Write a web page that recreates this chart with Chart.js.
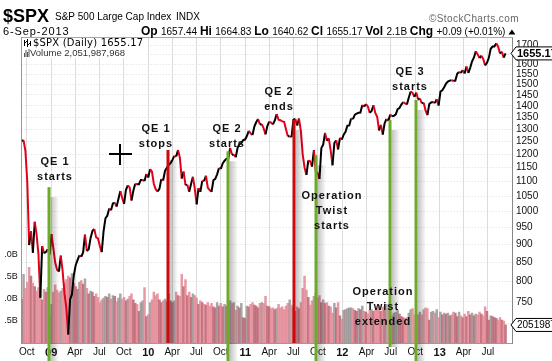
<!DOCTYPE html>
<html>
<head>
<meta charset="utf-8">
<script src="https://cdn.jsdelivr.net/npm/chart.js@4.4.0/dist/chart.umd.min.js"></script>
<style>
  body { margin: 0; background: #fff; width: 552px; height: 361px; overflow: hidden; }
  #c { display: block; }
</style>
</head>
<body>
<canvas id="c" width="552" height="361"></canvas>
<script>
// ---- data ----
// x axis ticks (quarter starts)
var tickDates = ['2008-10-01', '2009-01-01', '2009-04-01', '2009-07-01', '2009-10-01',
  '2010-01-01', '2010-04-01', '2010-07-01', '2010-10-01', '2011-01-01', '2011-04-01',
  '2011-07-01', '2011-10-01', '2012-01-01', '2012-04-01', '2012-07-01', '2012-10-01',
  '2013-01-01', '2013-04-01', '2013-07-01'];
var tickLabels = ['Oct', '09', 'Apr', 'Jul', 'Oct', '10', 'Apr', 'Jul', 'Oct', '11', 'Apr',
  'Jul', 'Oct', '12', 'Apr', 'Jul', 'Oct', '13', 'Apr', 'Jul'];
var priceTicks = [700, 750, 800, 850, 900, 950, 1000, 1050, 1100, 1150, 1200, 1250, 1300,
  1350, 1400, 1450, 1500, 1550, 1600, 1650, 1700];
var volTicks = [2.5, 5, 7.5, 10];
var volTickLabels = ['2.5B', '5.0B', '7.5B', '10.0B'];

// weekly $SPX closes, one per week starting at firstWeek
var firstWeek = '2008-09-12';
var spx2008 = [1252, 1255, 1213, 1099, 899, 940, 877, 968, 930, 873, 760, 896, 876, 879, 887, 872];
var spx2009 = [931, 890, 850, 831, 826, 869, 827, 770, 735, 676, 756, 768, 816, 843, 857, 870,
  866, 878, 929, 882, 887, 919, 940, 946, 921, 918, 896, 879, 940, 979, 987, 1010, 1004, 1026,
  1029, 1016, 1042, 1068, 1044, 1025, 1071, 1087, 1080, 1036, 1069, 1093, 1091, 1091, 1106,
  1106, 1102, 1127];
var spx2010 = [1115, 1145, 1136, 1092, 1074, 1066, 1075, 1109, 1104, 1139, 1150, 1160, 1167,
  1179, 1194, 1192, 1217, 1187, 1111, 1136, 1088, 1089, 1065, 1092, 1117, 1076, 1023, 1078,
  1065, 1103, 1102, 1121, 1079, 1071, 1065, 1105, 1110, 1126, 1149, 1146, 1166, 1176, 1183,
  1183, 1225, 1199, 1199, 1189, 1225, 1240, 1244, 1256, 1258];
var spx2011 = [1272, 1293, 1283, 1276, 1311, 1329, 1343, 1320, 1321, 1304, 1279, 1313, 1332,
  1328, 1320, 1337, 1364, 1340, 1338, 1333, 1331, 1300, 1271, 1271, 1268, 1340, 1344, 1316,
  1345, 1292, 1199, 1150, 1124, 1177, 1174, 1154, 1216, 1136, 1131, 1110, 1224, 1238, 1285,
  1253, 1263, 1216, 1159, 1244, 1255, 1219, 1265, 1258];
var spx2012 = [1278, 1289, 1315, 1316, 1345, 1343, 1362, 1366, 1370, 1371, 1404, 1397, 1408,
  1398, 1370, 1378, 1403, 1369, 1353, 1295, 1318, 1278, 1325, 1343, 1335, 1362, 1355, 1357,
  1363, 1386, 1391, 1406, 1418, 1411, 1407, 1438, 1466, 1460, 1441, 1461, 1429, 1433, 1412,
  1414, 1380, 1360, 1409, 1416, 1418, 1413, 1430, 1402];
var spx2013 = [1466, 1472, 1486, 1503, 1513, 1518, 1520, 1516, 1518, 1551, 1560, 1556, 1569,
  1553, 1588, 1555, 1582, 1614, 1634, 1667, 1650, 1631, 1643, 1626, 1593, 1606, 1632, 1680,
  1692, 1692, 1710, 1691, 1655, 1664, 1633, 1655.17];

// weekly volume, billions of shares
var vol2008 = [5.0, 7.8, 6.2, 6.9, 8.6, 7.6, 6.8, 6.4, 5.9, 6.3, 7.2, 4.9, 6.1, 5.8, 6.3, 3.1];
var vol2009 = [4.4, 5.8, 6.6, 6.0, 5.7, 5.9, 6.2, 6.8, 7.2, 7.6, 7.4, 7.9, 6.8, 6.4, 6.1, 6.9,
  7.1, 6.7, 7.3, 6.2, 5.6, 5.9, 5.8, 5.3, 5.6, 5.2, 4.6, 4.9, 5.1, 5.3, 5.2, 5.6, 5.0, 5.4,
  5.3, 4.7, 5.1, 5.6, 5.0, 5.2, 4.8, 5.0, 5.3, 5.6, 4.9, 4.5, 4.4, 3.6, 4.6, 4.8, 6.3, 3.0];
var vol2010 = [3.2, 4.6, 4.9, 5.8, 5.4, 5.6, 4.9, 4.6, 4.8, 5.0, 4.7, 5.6, 4.8, 4.6, 4.8, 5.8,
  5.4, 5.3, 7.8, 6.4, 7.2, 5.4, 5.8, 5.2, 5.6, 5.4, 5.1, 4.4, 4.8, 4.6, 4.4, 4.3, 4.6, 4.2,
  4.5, 4.1, 4.0, 4.6, 4.2, 4.5, 4.1, 4.4, 4.2, 4.0, 4.8, 4.5, 4.6, 3.7, 4.2, 4.0, 4.5, 2.9, 2.8];
var vol2011 = [4.2, 4.1, 4.4, 4.6, 4.3, 4.2, 4.0, 4.5, 4.6, 4.5, 5.3, 4.2, 4.1, 3.9, 4.0, 3.8,
  3.9, 4.4, 4.0, 4.1, 3.8, 4.2, 4.5, 4.9, 4.3, 4.0, 3.6, 4.1, 3.9, 4.6, 6.2, 7.6, 6.0, 5.2,
  4.3, 4.8, 5.3, 5.7, 5.1, 5.4, 4.6, 4.9, 4.5, 4.6, 4.2, 4.1, 3.4, 4.5, 4.0, 4.6, 3.1, 2.7];
var vol2012 = [3.7, 3.8, 3.9, 4.0, 4.0, 3.9, 3.7, 3.6, 3.9, 3.8, 4.2, 3.6, 3.5, 3.3, 3.7, 3.8,
  3.6, 3.7, 3.9, 4.3, 3.6, 4.1, 3.7, 4.4, 3.9, 4.0, 3.1, 3.4, 3.5, 3.7, 3.3, 3.0, 2.9, 2.8,
  2.9, 3.4, 3.8, 3.9, 3.2, 3.3, 3.2, 3.5, 3.2, 3.8, 4.0, 3.9, 2.6, 3.5, 3.6, 3.4, 3.8, 2.9];
var vol2013 = [3.5, 3.2, 3.4, 3.3, 3.4, 3.1, 3.2, 3.5, 3.4, 3.0, 3.5, 3.1, 2.9, 3.3, 3.0, 3.6,
  3.2, 3.4, 3.1, 3.3, 3.2, 3.5, 3.3, 3.1, 4.1, 3.6, 2.6, 3.1, 3.0, 2.9, 2.8, 2.6, 2.9, 2.6,
  2.5, 2.052];

// policy events
var eventNames = ['QE1 starts', 'QE1 stops', 'QE2 starts', 'QE2 ends', 'Twist starts',
  'Twist extended', 'QE3 starts'];
var eventDates = ['2008-12-22', '2010-03-17', '2010-10-28', '2011-07-04', '2011-09-25',
  '2012-06-27', '2012-10-05'];
var eventTops = [1081, 1217, 1212, 1339, 1197, 1339, 1427];

// ---- styling ----
var eventColors = ['#6eaa2a', '#cc0a0a', '#6eaa2a', '#cc0a0a', '#6eaa2a', '#6eaa2a', '#6eaa2a'];
var lineBottoms = [361, 343, 361, 343, 361, 347, 361];
var notes = [
  { lines: ['QE 1', 'starts'], x: 55, y: 162 },
  { lines: ['QE 1', 'stops'], x: 156, y: 129 },
  { lines: ['QE 2', 'starts'], x: 227, y: 129 },
  { lines: ['QE 2', 'ends'], x: 279, y: 92 },
  { lines: ['Operation', 'Twist', 'starts'], x: 332, y: 196 },
  { lines: ['Operation', 'Twist', 'extended'], x: 383, y: 292 },
  { lines: ['QE 3', 'starts'], x: 410, y: 72 }
];
var FONT = '"Liberation Sans", Arial, sans-serif';

function day(s) { return Date.parse(s) / 864e5; }

var closes = spx2008.concat(spx2009, spx2010, spx2011, spx2012, spx2013);
var volumes = vol2008.concat(vol2009, vol2010, vol2011, vol2012, vol2013);
var start = day(firstWeek);
var priceData = closes.map(function (v, i) { return { x: start + 7 * i, y: v }; });
var volData = volumes.map(function (v, i) { return { x: start + 7 * i, y: v }; });
var volColors = closes.map(function (c, i) {
  if (i > 0 && c < closes[i - 1]) return 'rgba(228,136,148,0.85)';
  if (i > 0 && volumes[i] >= volumes[i - 1]) return 'rgba(150,142,144,0.8)';
  return 'rgba(186,100,114,0.85)';
});

function tag(ctx, y, text, bold) {
  ctx.beginPath();
  ctx.moveTo(511, y);
  ctx.lineTo(516, y - 6.5);
  ctx.lineTo(553, y - 6.5);
  ctx.lineTo(553, y + 6.5);
  ctx.lineTo(516, y + 6.5);
  ctx.closePath();
  ctx.fillStyle = '#fff';
  ctx.fill();
  ctx.strokeStyle = '#000';
  ctx.lineWidth = 1;
  ctx.stroke();
  ctx.fillStyle = '#000';
  ctx.font = (bold ? 'bold 11px ' : '10px ') + FONT;
  ctx.textAlign = 'left';
  ctx.textBaseline = 'middle';
  ctx.fillText(text, 517, y + 0.5);
}

var overlay = {
  id: 'overlay',
  beforeDatasetsDraw: function (chart) {
    var ctx = chart.ctx;
    ctx.save();
    ctx.fillStyle = '#fff';
    ctx.fillRect(22, 38, 124, 20);   // legend box
    ctx.restore();
  },
  afterDatasetsDraw: function (chart) {
    var ctx = chart.ctx, x = chart.scales.x, price = chart.scales.price;
    ctx.save();
    // event lines with shadow
    eventDates.forEach(function (d, i) {
      var px = Math.round(x.getPixelForValue(day(d)));
      var top = price.getPixelForValue(eventTops[i]);
      var bottom = lineBottoms[i];
      var g = ctx.createLinearGradient(px + 1.5, 0, px + 10, 0);
      g.addColorStop(0, 'rgba(0,0,0,0.25)');
      g.addColorStop(1, 'rgba(0,0,0,0)');
      ctx.fillStyle = g;
      ctx.fillRect(px + 1.5, top + 10, 8.5, bottom - top - 10);
      ctx.fillStyle = eventColors[i];
      ctx.fillRect(px - 1.5, top, 3, bottom - top);
    });
    // notes
    ctx.fillStyle = '#111';
    ctx.font = 'bold 11px ' + FONT;
    ctx.textAlign = 'center';
    ctx.textBaseline = 'middle';
    ctx.letterSpacing = '1px';
    notes.forEach(function (n) {
      n.lines.forEach(function (t, k) { ctx.fillText(t, n.x, n.y + k * 15); });
    });
    ctx.letterSpacing = '0px';
    // crosshair
    ctx.fillStyle = '#000';
    ctx.fillRect(109, 153, 23, 2);
    ctx.fillRect(119, 144, 2, 21);
    ctx.restore();
  },
  afterDraw: function (chart) {
    var ctx = chart.ctx, a = chart.chartArea;
    ctx.save();
    // top border
    ctx.strokeStyle = '#a8a8a8';
    ctx.lineWidth = 1;
    ctx.beginPath();
    ctx.moveTo(a.left, a.top + 0.5);
    ctx.lineTo(a.right, a.top + 0.5);
    ctx.stroke();
    // the volume labels are cut off by the left edge of the picture
    ctx.fillStyle = '#fff';
    ctx.fillRect(0, 240, 4, 100);

    // header
    ctx.textAlign = 'left';
    ctx.textBaseline = 'middle';
    ctx.fillStyle = '#000';
    ctx.font = 'bold 18px ' + FONT;
    ctx.fillText('$SPX', 3, 17);
    ctx.font = '10px ' + FONT;
    ctx.fillText('S&P 500 Large Cap Index', 55, 17.5);
    ctx.fillText('INDX', 176, 17.5);
    ctx.fillStyle = '#666';
    ctx.letterSpacing = '0.4px';
    ctx.fillText('\u00a9StockCharts.com', 429, 19);
    ctx.fillStyle = '#000';
    ctx.letterSpacing = '0.9px';
    ctx.font = '11px ' + FONT;
    ctx.fillText('6-Sep-2013', 3, 32);
    ctx.letterSpacing = '0px';

    var B = 'bold 12px ' + FONT, N = '10px ' + FONT;
    var parts = [['Op ', B], ['1657.44 ', N], ['Hi ', B], ['1664.83 ', N], ['Lo ', B],
      ['1640.62 ', N], ['Cl ', B], ['1655.17 ', N], ['Vol ', B], ['2.1B ', N], ['Chg ', B],
      ['+0.09 (+0.01%)', N]];
    var px = 141;
    parts.forEach(function (p) {
      ctx.font = p[1];
      ctx.fillText(p[0], px, 32);
      px += ctx.measureText(p[0]).width;
    });
    ctx.beginPath();
    ctx.moveTo(px + 3, 34.5);
    ctx.lineTo(px + 10, 34.5);
    ctx.lineTo(px + 6.5, 29.5);
    ctx.closePath();
    ctx.fill();

    // legend
    ctx.font = '10px "DejaVu Sans", sans-serif';
    ctx.letterSpacing = '0.2px';
    ctx.fillText('$SPX (Daily) 1655.17', 33, 43);
    ctx.letterSpacing = '0px';
    ctx.fillStyle = '#333';
    ctx.font = '9.5px ' + FONT;
    ctx.fillText('Volume 2,051,987,968', 30, 53);
    // legend icons
    ctx.fillStyle = '#000';
    [[24, 40, 6], [27, 39, 8], [30, 41, 5]].forEach(function (b) { ctx.fillRect(b[0], b[1], 1, b[2]); });
    ctx.fillRect(25, 42, 1, 1); ctx.fillRect(26, 41, 1, 1); ctx.fillRect(28, 44, 1, 1); ctx.fillRect(29, 43, 1, 1);
    ctx.fillStyle = '#555';
    [[24, 4], [25.5, 7], [27, 5], [28.5, 8]].forEach(function (b) { ctx.fillRect(b[0], 57 - b[1], 1, b[1]); });

    // value tags on the right
    tag(ctx, chart.scales.price.getPixelForValue(closes[closes.length - 1]), '1655.17', true);
    tag(ctx, chart.scales.vol.getPixelForValue(volumes[volumes.length - 1]), '2051987968', false);
    ctx.restore();
  }
};

Chart.defaults.font.family = FONT;
Chart.defaults.color = '#111';

var ctx = document.getElementById('c').getContext('2d');
var chart = new Chart(ctx, {
  type: 'bar',
  data: {
    datasets: [{
      type: 'line',
      label: '$SPX',
      data: priceData,
      yAxisID: 'price',
      borderWidth: 2,
      borderColor: '#000',
      pointRadius: 0,
      tension: 0,
      order: 0,
      segment: {
        borderColor: function (c) { return c.p1.parsed.y < c.p0.parsed.y ? '#e3001b' : '#000'; }
      }
    }, {
      type: 'bar',
      label: 'Volume',
      data: volData,
      yAxisID: 'vol',
      backgroundColor: volColors,
      borderWidth: 0,
      barPercentage: 1,
      categoryPercentage: 1,
      order: 1
    }]
  },
  options: {
    responsive: false,
    animation: false,
    devicePixelRatio: 1,
    layout: { padding: { top: 37, left: 0, right: 0, bottom: 0 } },
    plugins: { legend: { display: false }, tooltip: { enabled: false } },
    scales: {
      x: {
        type: 'linear',
        offset: false,
        min: day('2008-09-12'),
        max: day('2013-10-02'),
        afterBuildTicks: function (s) { s.ticks = tickDates.map(function (d) { return { value: day(d) }; }); },
        afterFit: function (s) { s.height = 18; },
        ticks: {
          autoSkip: false,
          maxRotation: 0,
          padding: 3.5,
          color: '#111',
          callback: function (v, i) { return tickLabels[i]; },
          font: function (c) {
            var lab = c.tick ? tickLabels[tickDates.map(day).indexOf(c.tick.value)] : '';
            return lab && lab.length === 2 ? { size: 11, weight: 'bold' } : { size: 10 };
          }
        },
        grid: { color: '#dcdcdc', drawTicks: false, offset: false },
        border: { color: '#9a9a9a' }
      },
      price: {
        type: 'logarithmic',
        position: 'right',
        min: 658,
        max: 1744,
        afterBuildTicks: function (s) { s.ticks = priceTicks.map(function (v) { return { value: v }; }); },
        afterFit: function (s) { s.width = 39.5; },
        ticks: {
          autoSkip: false,
          padding: 3.5,
          color: '#111',
          font: { size: 10 },
          callback: function (v) { return String(v); }
        },
        grid: { color: '#dcdcdc', drawTicks: false },
        border: { color: '#888', dash: [1, 2] }
      },
      vol: {
        type: 'linear',
        position: 'left',
        min: 0,
        max: 34.77,
        afterBuildTicks: function (s) { s.ticks = volTicks.map(function (v) { return { value: v }; }); },
        afterFit: function (s) { s.width = 21.7; },
        ticks: {
          autoSkip: false,
          padding: 4,
          color: '#111',
          font: { size: 9 },
          callback: function (v, i) { return volTickLabels[i]; }
        },
        grid: { display: false, drawTicks: false },
        border: { color: '#9a9a9a' }
      }
    }
  },
  plugins: [overlay]
});
</script>
</body>
</html>
